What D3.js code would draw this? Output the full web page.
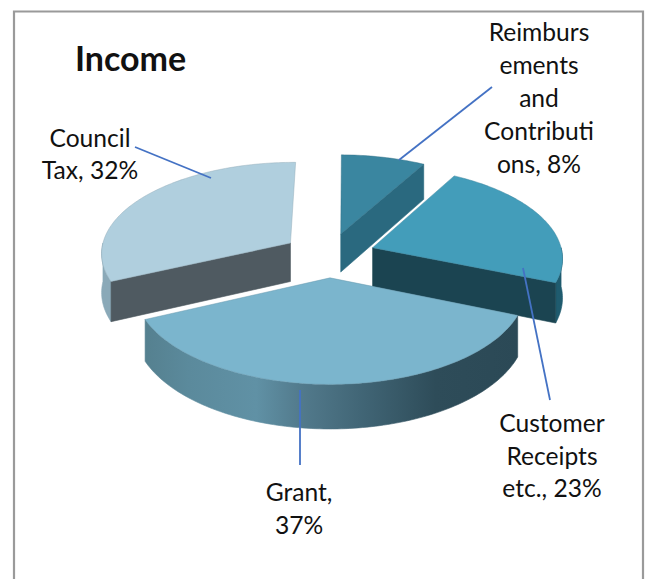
<!DOCTYPE html>
<html>
<head>
<meta charset="utf-8">
<script src="https://cdn.jsdelivr.net/npm/d3@7/dist/d3.min.js"></script>
<style>
  html, body { margin: 0; padding: 0; background: #fff; }
  svg { display: block; }
  text { font-family: Lato, "Open Sans", sans-serif; fill: #111; }
</style>
</head>
<body>
<svg id="chart" width="648" height="579"></svg>
<script>
// Income breakdown, share of total in percent
const categories = ["Reimbursements and Contributions", "Customer Receipts etc.", "Grant", "Council Tax"];
const shares = [8, 23, 37, 32];

const topColors  = ["#3a86a0", "#439dba", "#7bb5cd", "#b0cfde"];
const wallColors = ["#2a697f", "#1b4451", "#3c6070", "#4f5a61"];
const rimColors  = ["#2a697f", "#1f5b6e", "url(#grantRim)", "#8aa9b8"];

// Wrapped label lines, as set in the chart
const labelLines = [
  ["Reimburs", "ements", "and", "Contributi", "ons, 8%"],
  ["Customer", "Receipts", "etc., 23%"],
  ["Grant,", "37%"],
  ["Council", "Tax, 32%"]
];

// Layout: label centres, first baselines and leader lines
const labelX = [539, 552, 299, 90];
const labelY = [41, 432, 501, 147];
const lineGap = [33, 32.5, 33, 32];
const leaders = [
  [[492, 87], [399, 160]],
  [[550, 400], [523, 268]],
  [[300, 465], [300, 390]],
  [[135, 147], [211, 178]]
];

// Projection of the tilted disc: unit-radius ground plane to screen
const cx = 329, cy = 255, radiusX = 190, radiusY = 91, perspective = 0.1, thickness = 39, explode = 0.245;
const rotation = 0.01;

function project(X, Y, drop) {
  const d = 1 - perspective * Y;
  return [cx + radiusX * X / d, cy + (radiusY * Y + thickness * drop) / d];
}

const arcs = d3.pie().sort(null).value(d => d)
  .startAngle(rotation).endAngle(rotation + 2 * Math.PI)(shares);
const svg = d3.select("#chart");
const line = d3.line();

// Grant's outer wall is shaded from mid blue on the left to near-black teal on the right
const grad = svg.append("defs").append("linearGradient")
  .attr("id", "grantRim").attr("gradientUnits", "userSpaceOnUse")
  .attr("x1", 144).attr("x2", 518).attr("y1", 0).attr("y2", 0);
[[0, "#55808f"], [0.12, "#5b8a9c"], [0.3, "#6091a5"], [0.42, "#527a8c"], [0.6, "#3f6373"], [0.78, "#2e4c59"], [1, "#2b4956"]]
  .forEach(([o, c]) => grad.append("stop").attr("offset", o).attr("stop-color", c));

// Frame around the chart; it runs off the bottom of the page
svg.append("path")
  .attr("d", "M14,579V11.5H643V579")
  .attr("fill", "none").attr("stroke", "#9a9a9a").attr("stroke-width", 2.2);

function arcPoints(apex, a0, a1, drop) {
  const n = Math.max(2, Math.ceil((a1 - a0) / 0.02));
  return d3.range(n + 1).map(i => {
    const a = a0 + (a1 - a0) * i / n;
    return project(apex[0] + Math.sin(a), apex[1] - Math.cos(a), drop);
  });
}

// Back slices first so nearer ones paint over them
const order = [0, 3, 1, 2];
order.forEach(i => {
  const s = arcs[i];
  const mid = (s.startAngle + s.endAngle) / 2;
  const apex = [explode * Math.sin(mid), -explode * Math.cos(mid)];
  const g = svg.append("g").attr("class", "slice").datum(categories[i]);

  // Outer wall: the part of the rim on the viewer's side
  const r0 = Math.max(s.startAngle, Math.PI / 2), r1 = Math.min(s.endAngle, 3 * Math.PI / 2);
  if (r1 > r0) {
    const pts = arcPoints(apex, r0, r1, 0).concat(arcPoints(apex, r0, r1, 1).reverse());
    g.append("path").attr("d", line(pts) + "Z")
      .attr("fill", rimColors[i]).attr("stroke", rimColors[i]).attr("stroke-width", 0.6);
  }

  // Cut wall: whichever radial edge faces the viewer
  [[s.endAngle, Math.sin(s.endAngle) > 0.05], [s.startAngle, Math.sin(s.startAngle) < -0.05]]
    .filter(e => e[1])
    .forEach(([a]) => {
      const tip = [apex[0] + Math.sin(a), apex[1] - Math.cos(a)];
      const pts = [project(apex[0], apex[1], 0), project(tip[0], tip[1], 0),
                   project(tip[0], tip[1], 1), project(apex[0], apex[1], 1)];
      g.append("path").attr("d", line(pts) + "Z")
        .attr("fill", wallColors[i]).attr("stroke", wallColors[i]).attr("stroke-width", 0.6);
    });

  // Top face
  const top = [project(apex[0], apex[1], 0)].concat(arcPoints(apex, s.startAngle, s.endAngle, 0));
  g.append("path").attr("d", line(top) + "Z")
    .attr("fill", topColors[i]).attr("stroke", d3.color(topColors[i]).darker(0.5)).attr("stroke-width", 0.8)
    .attr("stroke-opacity", 0.6).attr("stroke-linejoin", "round");
});

// Leader lines
svg.selectAll("line.leader").data(leaders).join("line")
  .attr("class", "leader")
  .attr("x1", d => d[0][0]).attr("y1", d => d[0][1])
  .attr("x2", d => d[1][0]).attr("y2", d => d[1][1])
  .attr("stroke", "#4472c4").attr("stroke-width", 1.8);

// Data labels
labelLines.forEach((lines, i) => {
  const t = svg.append("text").attr("text-anchor", "middle").attr("font-size", 24.6);
  lines.forEach((l, j) => t.append("tspan")
    .attr("x", labelX[i]).attr("y", labelY[i] + j * lineGap[i]).text(l));
});

// Title
svg.append("text").attr("x", 75).attr("y", 71)
  .attr("font-size", 34).attr("font-weight", 700).text("Income");
</script>
</body>
</html>
